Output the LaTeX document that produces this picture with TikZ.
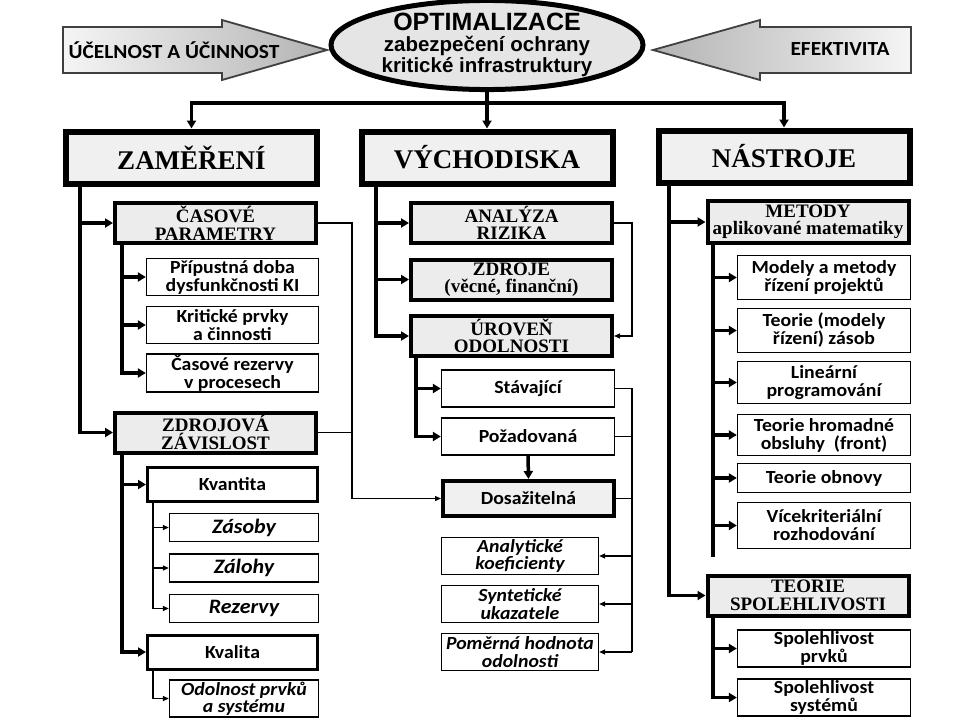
\documentclass[tikz,border=0pt]{standalone}
\usepackage{fontspec}
\setmainfont{Carlito}[FakeStretch=1.07]
\newfontfamily\headfont{Liberation Serif}
\newfontfamily\titlefont{Liberation Sans}
\usepackage{tikz}
\usetikzlibrary{arrows.meta, positioning, shapes.geometric}
\tikzset{%
	goal arrow/.style={
		draw=black!75,
		line width=1.8pt,
		line join=miter
	},
	side text/.style={
		font=\bfseries\fontsize{20}{22}\selectfont
	},
	goal ellipse/.style={
		ellipse,
		draw,
		line width=5pt,
		fill=gray!20,
		minimum width=312pt,
		minimum height=82pt,
		inner sep=0pt,
		align=center,
		font=\titlefont\bfseries\fontsize{20.5}{17}\selectfont
	},
	head box/.style={
		draw,
		line width=6pt,
		fill=gray!12,
		minimum width=251pt,
		minimum height=52pt,
		font=\headfont\bfseries\fontsize{27}{30}\selectfont
	},
	group box/.style={
		draw,
		line width=4pt,
		fill=gray!15,
		minimum width=201pt,
		minimum height=40pt,
		inner sep=1pt,
		align=center,
		font=\headfont\bfseries\fontsize{19}{17.5}\selectfont
	},
	item box/.style={
		draw,
		line width=1.3pt,
		fill=white,
		minimum width=172pt,
		minimum height=37pt,
		inner sep=1pt,
		align=center,
		font=\bfseries\fontsize{18.5}{18}\selectfont
	},
	key box/.style={
		item box,
		line width=3pt,
		minimum width=170pt,
		minimum height=34pt
	},
	reach box/.style={
		key box,
		line width=4pt,
		fill=gray!12,
		minimum width=171pt,
		minimum height=35pt
	},
	sub box/.style={
		item box,
		minimum width=149pt,
		minimum height=28pt,
		font=\bfseries\itshape\fontsize{18.5}{17.5}\selectfont
	},
	big sub/.style={
		sub box,
		font=\bfseries\itshape\fontsize{20.5}{20}\selectfont
	},
	main link/.style={
		line width=3.5pt
	},
	main arrow/.style={
		main link,
		-{Triangle[length=8pt,width=9pt]}
	},
	thin link/.style={
		line width=1.2pt
	},
	thin arrow/.style={
		thin link,
		-{Triangle[length=6pt,width=5pt]}
	}
}
\begin{document}
\begin{tikzpicture}[x=1pt, y=-1pt]
	\useasboundingbox (0,0) rectangle (960,720);
	
	% top
	\shadedraw[goal arrow, left color=gray!8, right color=gray!60] (63,27) -- (222,27) -- (222,20) -- (327,50) -- (222,80) -- (222,73) -- (63,73) -- cycle;
	\node[side text] (ucel) at (174,50) {ÚČELNOST A ÚČINNOST};
	\shadedraw[goal arrow, left color=gray!60, right color=gray!8] (911,27) -- (760,27) -- (760,20) -- (653,50) -- (760,80) -- (760,73) -- (911,73) -- cycle;
	\node[side text] (efek) at (840,49) {EFEKTIVITA};
	\node[goal ellipse] (optim) at (487,45) {{\fontsize{25}{22}\selectfont OPTIMALIZACE}\\[4pt]zabezpečení ochrany\\kritické infrastruktury};
	
	\node[head box] (zamer) at (191.5,157.5) {ZAMĚŘENÍ};
	\node[head box] (vychod) at (487,157.5) {VÝCHODISKA};
	\node[head box] (nastroj) at (784,156.5) {NÁSTROJE};
	
	\coordinate (split) at (487,103);
	\draw[main arrow] (optim.south) -- (vychod.north);
	\draw[main arrow] (split) -| (zamer.north);
	\draw[main arrow] (split) -| (nastroj.north);
	
	% zamereni
	\node[group box] (casov) at (215.5,223) {ČASOVÉ\\PARAMETRY};
	\node[item box] (pripust) at (232.5,277) {Přípustná doba\\dysfunkčnosti KI};
	\node[item box] (kritic) at (232.5,325) {Kritické prvky\\a činnosti};
	\node[item box] (casrez) at (232.5,373) {Časové rezervy\\v procesech};
	\node[group box] (zdrzav) at (215.5,432.5) {ZDROJOVÁ\\ZÁVISLOST};
	\node[key box] (kvant) at (232.5,484.5) {Kvantita};
	\node[big sub] (zasoby) at (244,527.5) {Zásoby};
	\node[big sub] (zalohy) at (244,568) {Zálohy};
	\node[big sub] (rezerv) at (244,608.5) {Rezervy};
	\node[key box] (kvalit) at (232.5,652) {Kvalita};
	\node[sub box, minimum height=37pt] (odolps) at (244,698.5) {Odolnost prvků\\a systému};
	
	\coordinate (zamtrunk) at (80,0);
	\coordinate (castrunk) at (122,0);
	\coordinate (kvtrunk) at (153,0);
	\draw[main arrow] (zamtrunk |- zamer.south) |- (casov.west);
	\draw[main arrow] (zamtrunk |- zamer.south) |- (zdrzav.west);
	\draw[main arrow] (castrunk |- casov.south) |- (pripust.west);
	\draw[main arrow] (castrunk |- casov.south) |- (kritic.west);
	\draw[main arrow] (castrunk |- casov.south) |- (casrez.west);
	\draw[main arrow] (castrunk |- zdrzav.south) |- (kvant.west);
	\draw[main arrow] (castrunk |- zdrzav.south) |- (kvalit.west);
	\draw[thin arrow] (kvtrunk |- kvant.south) |- (zasoby.west);
	\draw[thin arrow] (kvtrunk |- kvant.south) |- (zalohy.west);
	\draw[thin arrow] (kvtrunk |- kvant.south) |- (rezerv.west);
	\draw[thin arrow] (kvtrunk |- kvalit.south) |- (odolps.west);
	
	% vychodiska
	\node[group box] (analyz) at (511.5,223) {ANALÝZA\\RIZIKA};
	\node[group box] (zdroje) at (511.5,279.5) {ZDROJE\\(věcné, finanční)};
	\node[group box] (urov) at (511.5,336) {ÚROVEŇ\\ODOLNOSTI};
	\node[item box, minimum width=173pt] (stav) at (528,388.5) {Stávající};
	\node[item box, minimum width=173pt] (pozad) at (528,436.5) {Požadovaná};
	\node[reach box] (dosaz) at (528.5,498.5) {Dosažitelná};
	\node[sub box, minimum width=157pt, minimum height=37pt] (analkoef) at (520,556) {Analytické\\koeficienty};
	\node[sub box, minimum width=157pt, minimum height=37pt] (syntuk) at (520,604) {Syntetické\\ukazatele};
	\node[sub box, minimum width=157pt, minimum height=37pt] (pomhod) at (520,652) {Poměrná hodnota\\odolnosti};
	
	\coordinate (vychtrunk) at (376,0);
	\coordinate (urtrunk) at (416,0);
	\coordinate (lbus) at (352,0);
	\coordinate (rbus) at (632,0);
	\draw[main arrow] (vychtrunk |- vychod.south) |- (analyz.west);
	\draw[main arrow] (vychtrunk |- vychod.south) |- (zdroje.west);
	\draw[main arrow] (vychtrunk |- vychod.south) |- (urov.west);
	\draw[main arrow] (urtrunk |- urov.south) |- (stav.west);
	\draw[main arrow] (urtrunk |- urov.south) |- (pozad.west);
	\draw[main arrow] (pozad.south) -- (dosaz.north);
	
	\draw[thin arrow] (analyz.east) -| (rbus |- urov.east) -- (urov.east);
	\draw[thin arrow] (casov.east) -| (lbus |- dosaz.west) -- (dosaz.west);
	\draw[thin link] (zdrzav.east) -- (zdrzav.east -| lbus);
	\draw[thin link] (stav.east) -| (rbus |- pomhod.east);
	\draw[thin link] (pozad.east) -- (pozad.east -| rbus);
	\draw[thin link] (dosaz.east) -- (dosaz.east -| rbus);
	\draw[thin arrow] (rbus |- analkoef.east) -- (analkoef.east);
	\draw[thin arrow] (rbus |- syntuk.east) -- (syntuk.east);
	\draw[thin arrow] (rbus |- pomhod.east) -- (pomhod.east);
	
	% nastroje
	\node[group box, minimum height=42pt] (metody) at (808,222) {METODY\\aplikované matematiky};
	\node[item box, minimum width=173pt, minimum height=44pt] (modely) at (824,277.5) {Modely a metody\\řízení projektů};
	\node[item box, minimum width=173pt, minimum height=44pt] (zasob) at (824,330.5) {Teorie (modely\\řízení) zásob};
	\node[item box, minimum width=173pt, minimum height=42pt] (linear) at (824,382.5) {Lineární\\programování};
	\node[item box, minimum width=173pt, minimum height=41pt] (hromad) at (824,435) {Teorie hromadné\\obsluhy\ \ (front)};
	\node[item box, minimum width=173pt, minimum height=29pt] (obnova) at (824,478) {Teorie obnovy};
	\node[item box, minimum width=173pt, minimum height=46pt] (vicekr) at (824,525.5) {Vícekriteriální\\rozhodování};
	\node[group box] (teorie) at (808,595.5) {TEORIE\\SPOLEHLIVOSTI};
	\node[item box, minimum width=173pt] (sprvku) at (824,648.5) {Spolehlivost\\prvků};
	\node[item box, minimum width=173pt] (ssyst) at (824,697.5) {Spolehlivost\\systémů};
	
	\coordinate (nasttrunk) at (669,0);
	\coordinate (mettrunk) at (713,0);
	\coordinate (metend) at (713,557);
	\draw[main arrow] (nasttrunk |- nastroj.south) |- (metody.west);
	\draw[main arrow] (nasttrunk |- nastroj.south) |- (teorie.west);
	\draw[main link] (mettrunk |- metody.south) -- (metend);
	\draw[main arrow] (mettrunk |- metody.south) |- (modely.west);
	\draw[main arrow] (mettrunk |- metody.south) |- (zasob.west);
	\draw[main arrow] (mettrunk |- metody.south) |- (linear.west);
	\draw[main arrow] (mettrunk |- metody.south) |- (hromad.west);
	\draw[main arrow] (mettrunk |- metody.south) |- (obnova.west);
	\draw[main arrow] (mettrunk |- metody.south) |- (vicekr.west);
	\draw[main arrow] (mettrunk |- teorie.south) |- (sprvku.west);
	\draw[main arrow] (mettrunk |- teorie.south) |- (ssyst.west);
\end{tikzpicture}
\end{document}
